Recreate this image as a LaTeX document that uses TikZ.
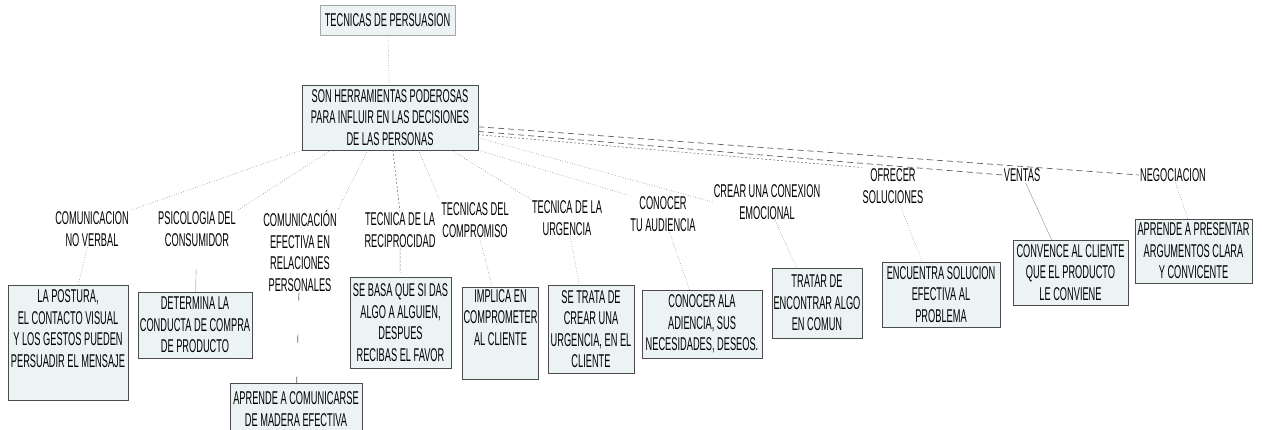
\documentclass[tikz,border=0pt]{standalone}
\usepackage{fontspec}
\setmainfont{Liberation Sans}[FakeStretch=0.5]
\definecolor{boxfill}{RGB}{236,243,245}
\definecolor{linegray}{RGB}{95,95,95}
\begin{document}
\begin{tikzpicture}[x=1pt, y=-1pt, font=\fontsize{18.5}{21.5}\selectfont,
	caja/.style={draw=black!70, fill=boxfill, align=center, inner sep=1pt},
	rotulo/.style={align=center, inner sep=1pt},
	punteado/.style={draw=linegray, dotted, line width=0.5pt},
	rayado/.style={draw=linegray, dash pattern=on 6pt off 4pt, line width=0.7pt},
	rayita/.style={draw=linegray, dash pattern=on 2pt off 2pt, line width=0.5pt},
	fino/.style={draw=linegray!70, line width=0.4pt}]
	\useasboundingbox (0,0) rectangle (1262,430);
	% centro
	\node[caja, draw=black!35, minimum width=135, minimum height=30] (tit) at (387.5,20) {TECNICAS DE PERSUASION};
	\node[caja, minimum width=176, minimum height=65] (main) at (390,117.5) {SON HERRAMIENTAS PODEROSAS\\PARA INFLUIR EN LAS DECISIONES\\DE LAS PERSONAS};
	\draw[punteado] (tit) -- (main);
	% ramas
	\node[rotulo] (l1) at (92,229) {COMUNICACION\\NO VERBAL};
	\node[rotulo] (l2) at (197,229) {PSICOLOGIA DEL\\CONSUMIDOR};
	\node[rotulo] (l3) at (300,251) {COMUNICACIÓN\\EFECTIVA EN\\RELACIONES\\PERSONALES};
	\node[rotulo] (l4) at (400,230) {TECNICA DE LA\\RECIPROCIDAD};
	\node[rotulo] (l5) at (475,220) {TECNICAS DEL\\COMPROMISO};
	\node[rotulo] (l6) at (567,218) {TECNICA DE LA\\URGENCIA};
	\node[rotulo] (l7) at (663,214) {CONOCER\\TU AUDIENCIA};
	\node[rotulo] (l8) at (767,202) {CREAR UNA CONEXION\\EMOCIONAL};
	\node[rotulo] (l9) at (893,186) {OFRECER\\SOLUCIONES};
	\node[rotulo] (l10) at (1022,175) {VENTAS};
	\node[rotulo] (l11) at (1173,175) {NEGOCIACION};
	\draw[punteado] (main.south west) -- (l1.north east);
	\draw[punteado] (main.209) -- (l2.north east);
	\draw[punteado] (main.236) -- (l3.north east);
	\draw[rayita] (main.275) -- (l4.north);
	\draw[punteado] (main.311) -- (l5.north west);
	\draw[punteado] (main.332) -- (l6.north west);
	\draw[punteado] (main.south east) -- (l7.north west);
	\draw[punteado] (main.347) -- (l8.west);
	\draw[rayita] (main.349) -- (l9.north west);
	\draw[rayado] (main.351) -- (l10.west);
	\draw[rayado] (main.354) -- (l11.west);
	% hojas
	\node[caja, minimum width=120, minimum height=115] (b1) at (68,342.5) {LA POSTURA,\\EL CONTACTO VISUAL\\Y LOS GESTOS PUEDEN\\PERSUADIR EL MENSAJE\\[6pt]};
	\node[caja, minimum width=114, minimum height=66] (b2) at (195,325) {DETERMINA LA\\CONDUCTA DE COMPRA\\DE PRODUCTO};
	\node[caja, minimum width=132, minimum height=52] (b3) at (296,409) {APRENDE A COMUNICARSE\\DE MADERA EFECTIVA};
	\node[caja, minimum width=101, minimum height=91] (b4) at (400.5,322.5) {SE BASA QUE SI DAS\\ALGO A ALGUIEN,\\DESPUES\\RECIBAS EL FAVOR};
	\node[caja, minimum width=75, minimum height=92] (b5) at (500.5,333) {IMPLICA EN\\COMPROMETER\\AL CLIENTE\\[10pt]};
	\node[caja, minimum width=86, minimum height=88] (b6) at (591,329) {SE TRATA DE\\CREAR UNA\\URGENCIA, EN EL\\CLIENTE};
	\node[caja, minimum width=120, minimum height=68] (b7) at (702,324) {CONOCER ALA\\ADIENCIA, SUS\\NECESIDADES, DESEOS.};
	\node[caja, minimum width=90, minimum height=70] (b8) at (817,303) {TRATAR DE\\ENCONTRAR ALGO\\EN COMUN};
	\node[caja, minimum width=118, minimum height=65] (b9) at (941,294.5) {ENCUENTRA SOLUCION\\EFECTIVA AL\\PROBLEMA};
	\node[caja, minimum width=115, minimum height=65] (b10) at (1070.5,272.5) {CONVENCE AL CLIENTE\\QUE EL PRODUCTO\\LE CONVIENE};
	\node[caja, minimum width=117, minimum height=64] (b11) at (1193.5,251) {APRENDE A PRESENTAR\\ARGUMENTOS CLARA\\Y CONVICENTE};
	\draw[punteado] (l1) -- (b1.80);
	\draw[fino, shorten <=22pt] (l2) -- (b2);
	\draw[rayado, dash pattern=on 8pt off 34pt] (l3) -- (b3);
	\draw[rayita, shorten >=4pt] (l4) -- (b4);
	\draw[punteado] (l5) -- (b5.100);
	\draw[punteado] (l6) -- (b6.105);
	\draw[punteado] (l7) -- (b7.110);
	\draw[punteado] (l8) -- (b8.120);
	\draw[punteado] (l9) -- (b9.120);
	\draw[fino] (l10) -- (b10.120);
	\draw[punteado] (l11) -- (b11.100);
\end{tikzpicture}
\end{document}
